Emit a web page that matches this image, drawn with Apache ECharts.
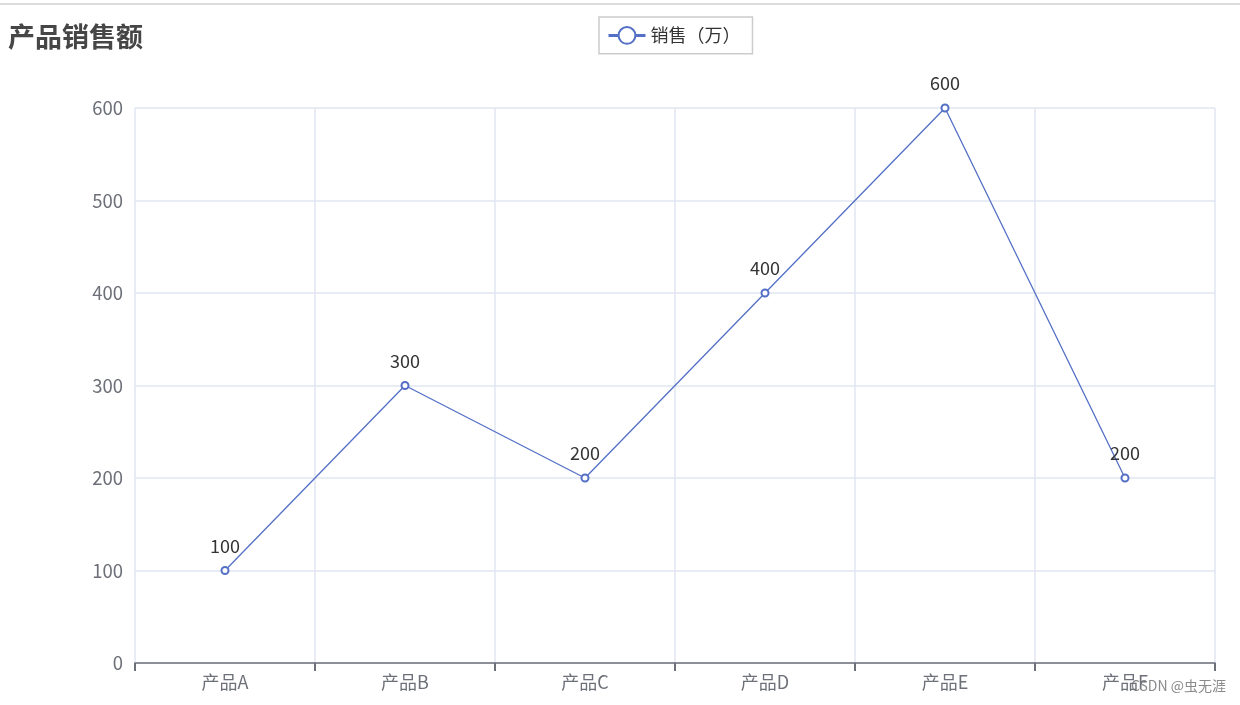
<!DOCTYPE html>
<html>
<head>
<meta charset="utf-8">
<script src="https://cdn.jsdelivr.net/npm/echarts@6/dist/echarts.min.js"></script>
<style>
html,body{margin:0;padding:0;background:#fff;}
#main{width:1240px;height:705px;}
</style>
</head>
<body>
<div id="main"></div>
<script>
var categories = ['产品A', '产品B', '产品C', '产品D', '产品E', '产品F'];
var sales = [100, 300, 200, 400, 600, 200];
var yTicks = [0, 100, 200, 300, 400, 500, 600];
var seriesName = '销售（万）';
var titleText = '产品销售额';
var watermark = 'CSDN @虫无涯';

var font = '"Noto Sans CJK SC", "Noto Sans", sans-serif';
var chart = echarts.init(document.getElementById('main'), null, {renderer: 'canvas'});
chart.setOption({
  backgroundColor: '#fff',
  textStyle: {fontFamily: font},
  title: {
    text: titleText,
    left: 3,
    top: 18,
    textStyle: {fontSize: 27, fontWeight: 'bold', color: '#464646', fontFamily: font}
  },
  legend: {
    data: [seriesName],
    left: 599,
    top: 17,
    padding: [9, 12, 9, 8],
    borderColor: '#ccc',
    borderWidth: 1.5,
    itemWidth: 37,
    itemHeight: 21,
    lineStyle: {width: 3},
    itemStyle: {borderWidth: 3},
    textStyle: {fontSize: 18, color: '#333', fontFamily: font}
  },
  grid: {left: 135, right: 25, top: 108, bottom: 42},
  xAxis: {
    type: 'category',
    data: categories,
    boundaryGap: true,
    axisLine: {lineStyle: {color: '#6E7079', width: 1.5}},
    axisTick: {show: true, length: 8, lineStyle: {color: '#6E7079', width: 2}},
    axisLabel: {fontSize: 18, color: '#6E7079', margin: 10, fontFamily: font},
    splitLine: {show: true, lineStyle: {color: '#E0E6F1', width: 1.5}}
  },
  yAxis: {
    type: 'value',
    min: yTicks[0],
    max: yTicks[yTicks.length - 1],
    interval: 100,
    axisLabel: {fontSize: 18.5, color: '#6E7079', margin: 12, fontFamily: font},
    splitLine: {lineStyle: {color: '#E0E6F1', width: 1.5}}
  },
  series: [{
    name: seriesName,
    type: 'line',
    data: sales,
    symbol: 'emptyCircle',
    symbolSize: 7,
    lineStyle: {width: 1.3, color: '#5470c6'},
    itemStyle: {color: '#5470c6', borderWidth: 3.5},
    label: {show: true, position: 'top', distance: 11, fontSize: 18, color: '#333', fontFamily: font}
  }],
  graphic: [
    {type: 'rect', left: 0, top: 3, shape: {width: 1240, height: 2}, style: {fill: '#dcdcdc'}},
    {type: 'text', right: 14, top: 679, style: {text: watermark, fill: '#8a8a8a', font: '14px ' + font}}
  ]
});
</script>
</body>
</html>
